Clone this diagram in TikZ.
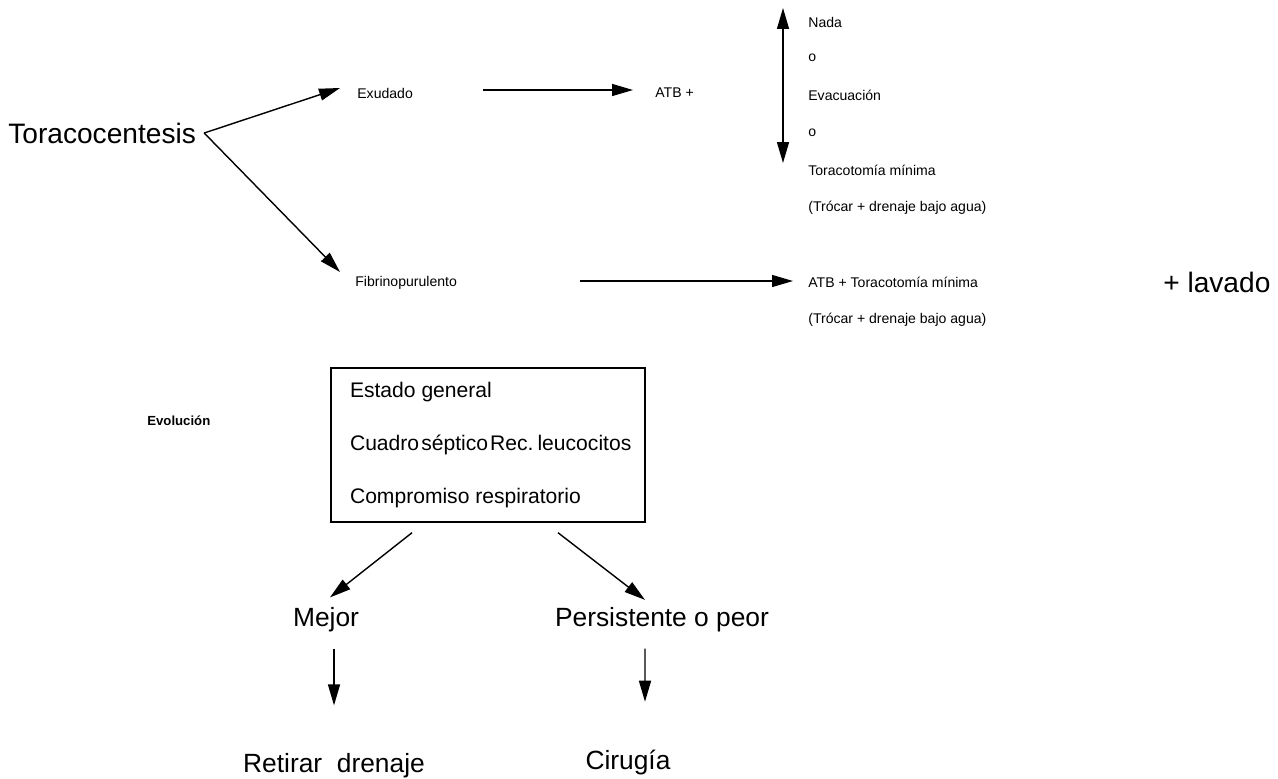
\documentclass[tikz,border=0pt]{standalone}
\usepackage{fontspec}
\setmainfont{Liberation Sans}
\usetikzlibrary{arrows.meta}

\begin{document}
\begin{tikzpicture}[x=0.02cm, y=-0.02cm]

    \useasboundingbox (0,0) rectangle (1278,778);

    \tikzset{arr/.style={-{Triangle[length=0.42cm, width=0.24cm]}, line width=0.8pt},
             tiny/.style={font=\fontsize{8}{9}\selectfont, anchor=west, inner sep=0pt},
             big/.style={font=\fontsize{16}{19}\selectfont, inner sep=0pt},
             low/.style={font=\fontsize{15}{18}\selectfont, inner sep=0pt}}

    % Toracocentesis and its two branches
    \node[big, anchor=west] (toraco) at (8,133) {Toracocentesis};
    \node[tiny] (exu)   at (357,93)  {Exudado};
    \node[tiny] (fibri) at (355,283) {Fibrinopurulento};

    \draw[arr] ([xshift=0.16cm]toraco.east) -- ([xshift=-0.34cm, yshift=0.1cm]exu.west);
    \draw[arr] ([xshift=0.16cm]toraco.east) -- ([xshift=-0.3cm, yshift=0.22cm]fibri.west);

    % Exudado
    \node[tiny] (atbA) at (655,93) {ATB +};
    \draw[arr] ([xshift=2.52cm, yshift=0.06cm]exu.west) -- ([xshift=-0.44cm, yshift=0.06cm]atbA.west);

    \coordinate (vtop) at (783,8);
    \coordinate (vbot) at (783,163);
    \draw[{Triangle[length=0.42cm, width=0.24cm]}-{Triangle[length=0.42cm, width=0.24cm]}, line width=0.8pt] (vtop) -- (vbot);

    \node[tiny] (nada)  at (808,22)  {Nada};
    \node[tiny] (oA)    at (808,58)  {o};
    \node[tiny] (evac)  at (808,95)  {Evacuación};
    \node[tiny] (oB)    at (808,133) {o};
    \node[tiny] (torA)  at (808,170) {Toracotomía mínima};
    \node[tiny] (trocA) at (808,208) {(Trócar + drenaje bajo agua)};

    % Fibrinopurulento
    \node[tiny] (atbB)  at (808,282) {ATB + Toracotomía mínima};
    \node[tiny] (trocB) at (808,320) {(Trócar + drenaje bajo agua)};
    \node[big, anchor=west] (lavado) at (1163,282) {+ lavado};
    \draw[arr] ([xshift=4.5cm, yshift=0.04cm]fibri.west) -- ([xshift=-0.3cm, yshift=0.04cm]atbB.west |- fibri.west);

    % Evolucion
    \node[font=\fontsize{7.5}{9}\selectfont\bfseries, anchor=west, inner sep=0pt] (evol) at (147,421) {Evolución};
    \node[draw, line width=0.8pt, minimum width=6.28cm, minimum height=3.08cm,
          inner xsep=0.38cm, text width=5.52cm, align=flush left,
          font=\fontsize{12}{30.3}\selectfont] (box) at (488,445)
          {Estado general\\\mbox{\spaceskip=0.1em Cuadro séptico Rec. leucocitos}\\Compromiso respiratorio};

    \node[low] (mejor) at (326,620) {Mejor};
    \node[low] (pers)  at (662,620) {Persistente o peor};
    \node[low] (retir) at (334,766) {Retirar\ \ drenaje};
    \node[low] (cirug) at (628,763) {Cirugía};

    \draw[arr] ([xshift=-1.52cm, yshift=-0.2cm]box.south) -- ([xshift=0.08cm, yshift=0.2cm]mejor.north);
    \draw[arr] ([xshift=1.4cm, yshift=-0.2cm]box.south) -- ([xshift=-0.34cm, yshift=0.15cm]pers.north);
    \draw[arr] ([yshift=-0.32cm]mejor.south -| retir.north) -- ([yshift=0.96cm]retir.north);
    \draw[arr] ([xshift=-0.34cm, yshift=-0.32cm]pers.south) -- ([xshift=0.34cm, yshift=0.97cm]cirug.north);

\end{tikzpicture}
\end{document}
